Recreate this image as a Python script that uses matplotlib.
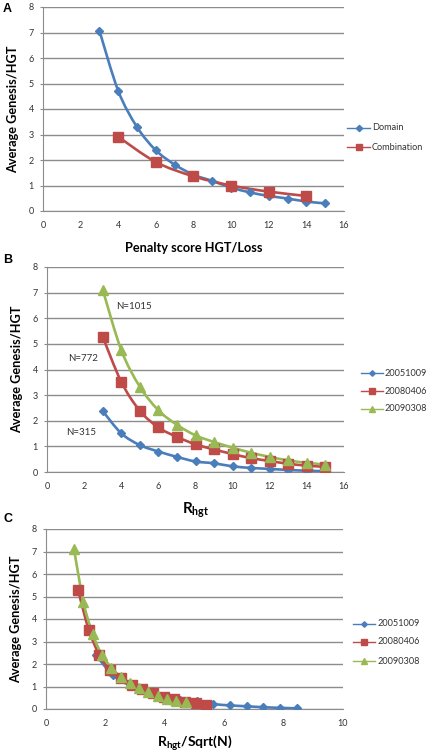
import matplotlib
matplotlib.use("Agg")
import matplotlib.pyplot as plt
from matplotlib.path import Path
from matplotlib.patches import PathPatch
from matplotlib.lines import Line2D
import numpy as np

# ---------------- data ----------------
penalty_x = [3, 4, 5, 6, 7, 8, 9, 10, 11, 12, 13, 14, 15]
domain_y = [7.07, 4.71, 3.29, 2.38, 1.82, 1.42, 1.18, 0.92, 0.73, 0.59, 0.49, 0.37, 0.30]
comb_x = [4, 6, 8, 10, 12, 14]
comb_y = [2.91, 1.92, 1.36, 1.00, 0.76, 0.59]

rhgt_x = [3, 4, 5, 6, 7, 8, 9, 10, 11, 12, 13, 14, 15]
s2005_y = [2.38, 1.51, 1.05, 0.80, 0.59, 0.41, 0.34, 0.22, 0.16, 0.12, 0.08, 0.05, 0.03]
s2008_y = [5.28, 3.52, 2.39, 1.74, 1.37, 1.08, 0.88, 0.70, 0.54, 0.43, 0.32, 0.25, 0.20]
s2009_y = [7.12, 4.76, 3.33, 2.41, 1.84, 1.43, 1.17, 0.95, 0.75, 0.59, 0.45, 0.36, 0.29]

c2005_x = [1.69, 2.25, 2.82, 3.38, 3.94, 4.51, 5.07, 5.63, 6.20, 6.76, 7.32, 7.89, 8.45]
c2008_x = [1.08, 1.44, 1.80, 2.16, 2.52, 2.88, 3.24, 3.60, 3.96, 4.32, 4.68, 5.04, 5.40]
c2009_x = [0.94, 1.26, 1.57, 1.88, 2.20, 2.51, 2.83, 3.14, 3.45, 3.77, 4.08, 4.39, 4.71]

series_names = ["20051009", "20080406", "20090308"]
n_labels = ["N=315", "N=772", "N=1015"]
n_label_pos = [(1.86, 1.56), (1.97, 4.41), (4.69, 6.44)]

BLUE = "#4A7EBB"
RED = "#BE4B48"
GREEN = "#98B954"
GRID = "#8C8C8C"

W, H = 430, 753

plt.rcParams["font.family"] = ["Lato", "DejaVu Sans"]
plt.rcParams["mathtext.fontset"] = "custom"
plt.rcParams["mathtext.rm"] = "Lato:bold"
plt.rcParams["mathtext.it"] = "Lato:bold"
plt.rcParams["mathtext.bf"] = "Lato:bold"


def smooth_path(x, y):
    pts = np.column_stack([x, y]).astype(float)
    n = len(pts)
    verts = [pts[0]]
    codes = [Path.MOVETO]
    for i in range(n - 1):
        p0 = pts[i - 1] if i > 0 else pts[i]
        p1 = pts[i]
        p2 = pts[i + 1]
        p3 = pts[i + 2] if i + 2 < n else pts[i + 1]
        c1 = p1 + (p2 - p0) / 6.0
        c2 = p2 - (p3 - p1) / 6.0
        verts += [c1, c2, p2]
        codes += [Path.CURVE4] * 3
    return Path(verts, codes)


def plot_series(ax, x, y, color, marker, ms, lw=1.9):
    patch = PathPatch(smooth_path(x, y), facecolor="none", edgecolor=color, lw=lw,
                      zorder=3, capstyle="round", joinstyle="round")
    ax.add_patch(patch)
    ax.plot(x, y, linestyle="none", marker=marker, ms=ms, color=color,
            markeredgecolor=color, zorder=4)


def style_axes(ax, xmax, xstep):
    ax.set_ylim(0, 8)
    ax.set_xlim(0, xmax)
    ax.set_yticks(range(0, 9))
    ax.set_xticks(np.arange(0, xmax + 0.1, xstep))
    ax.yaxis.grid(True, color=GRID, lw=1.0)
    ax.set_axisbelow(True)
    for s in ["top", "right"]:
        ax.spines[s].set_visible(False)
    ax.spines["left"].set_color(GRID)
    ax.spines["bottom"].set_color(GRID)
    ax.tick_params(axis="both", labelsize=6.5, colors="#333333", length=2.5,
                   width=0.8, color=GRID, pad=4)
    ax.tick_params(axis="x", length=0, pad=7)
    ax.set_ylabel("Average Genesis/HGT", fontsize=9.2, fontweight="bold", labelpad=7)


def manual_legend(fig, entries, x0, x1, xt, ys, fs=6.6, lw=1.0):
    # entries: list of (label, color, marker, ms); positions in figure pixels
    for (lab, col, mk, ms), yp in zip(entries, ys):
        yf = 1 - yp / H
        fig.add_artist(Line2D([x0 / W, x1 / W], [yf, yf], color=col, lw=lw,
                              transform=fig.transFigure))
        fig.add_artist(Line2D([(x0 + x1) / 2 / W], [yf], color=col, marker=mk,
                              ms=ms, linestyle="none", transform=fig.transFigure))
        fig.text(xt / W, yf, lab, fontsize=fs, color="#333333", va="center", ha="left")


fig = plt.figure(figsize=(W / 100, H / 100), dpi=100)

# ---------------- Panel A ----------------
axA = fig.add_axes([43 / W, 1 - 211 / H, 301 / W, 204 / H])
style_axes(axA, 16, 2)
plot_series(axA, penalty_x, domain_y, BLUE, "D", 4.5)
plot_series(axA, comb_x, comb_y, RED, "s", 7.5)
axA.set_xlabel("Penalty score HGT/Loss", fontsize=9.2, fontweight="bold", labelpad=9)
manual_legend(fig, [("Domain", BLUE, "D", 3.2), ("Combination", RED, "s", 4)],
              347, 370, 372, [128, 147])
fig.text(3 / W, 1 - 9 / H, "A", fontsize=9, fontweight="bold",
         family=["Liberation Sans"], va="center")

# ---------------- Panel B ----------------
axB = fig.add_axes([47 / W, 1 - 472 / H, 297 / W, 205 / H])
style_axes(axB, 16, 2)
plot_series(axB, rhgt_x, s2005_y, BLUE, "D", 4.5)
plot_series(axB, rhgt_x, s2008_y, RED, "s", 7.5)
plot_series(axB, rhgt_x, s2009_y, GREEN, "^", 6.5)
for lab, (tx, ty) in zip(n_labels, n_label_pos):
    axB.text(tx, ty, lab, fontsize=7, color="#333333", ha="center", va="center")
axB.set_xlabel(r"$\mathrm{R_{hgt}}$", fontsize=11, labelpad=7)
entries = [(series_names[0], BLUE, "D", 2.8), (series_names[1], RED, "s", 4),
           (series_names[2], GREEN, "^", 4)]
manual_legend(fig, entries, 361, 383, 385, [373, 391, 409])
fig.text(3 / W, 1 - 260 / H, "B", fontsize=9, fontweight="bold",
         family=["Liberation Sans"], va="center")

# ---------------- Panel C ----------------
axC = fig.add_axes([46 / W, 1 - 709 / H, 297 / W, 180 / H])
style_axes(axC, 10, 2)
plot_series(axC, c2005_x, s2005_y, BLUE, "D", 4.5)
plot_series(axC, c2008_x, s2008_y, RED, "s", 7.5)
plot_series(axC, c2009_x, s2009_y, GREEN, "^", 6.5)
axC.set_xlabel(r"$\mathrm{R_{hgt}/Sqrt(N)}$", fontsize=10, labelpad=4)
manual_legend(fig, entries, 353, 375, 378, [624, 642, 661])
fig.text(3 / W, 1 - 519 / H, "C", fontsize=9, fontweight="bold",
         family=["Liberation Sans"], va="center")

fig.savefig("out.png", dpi=100)
